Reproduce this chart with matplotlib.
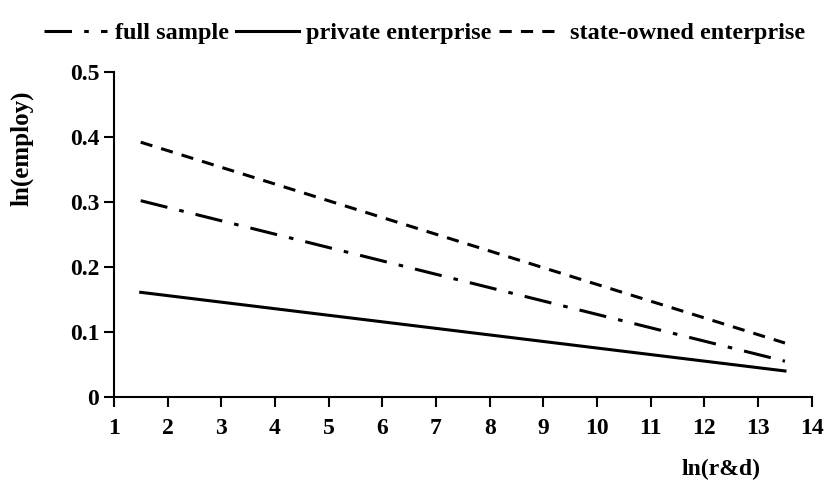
import matplotlib.pyplot as plt

plt.rcParams['font.family'] = ['Liberation Serif', 'DejaVu Serif']
plt.rcParams['font.weight'] = 'bold'

# fitted lines, read at both ends
x_rd = [1.5, 13.5]
full_sample = [0.302, 0.055]
private = [0.161, 0.040]
state_owned = [0.392, 0.083]

xticks = list(range(1, 15))
yticks = [0, 0.1, 0.2, 0.3, 0.4, 0.5]
ytick_labels = ['0', '0.1', '0.2', '0.3', '0.4', '0.5']

fig = plt.figure(figsize=(8.25, 4.8), dpi=100)
ax = fig.add_axes([0.138, 0.173, 0.846, 0.677])

ax.plot(x_rd, full_sample, color='black', lw=2.2, dashes=(9, 4, 1.5, 4), label='full sample')
ax.plot(x_rd, private, color='black', lw=2.2, label='private enterprise')
ax.plot(x_rd, state_owned, color='black', lw=2.2, dashes=(4, 3), label='state-owned enterprise')

ax.set_xlim(1, 14)
ax.set_ylim(0, 0.5)
ax.set_xticks(xticks)
ax.set_yticks(yticks)
ax.set_yticklabels(ytick_labels)
ax.tick_params(labelsize=17, width=1.5, length=7, direction='out')
ax.tick_params(axis='x', pad=8)
for s in ['top', 'right']:
    ax.spines[s].set_visible(False)
for s in ['left', 'bottom']:
    ax.spines[s].set_linewidth(1.5)

ax.set_ylabel('ln(employ)', fontsize=18, fontweight='bold')
ax.yaxis.set_label_coords(-0.115, 0.765)
ax.set_xlabel('ln(r&d)', fontsize=17, fontweight='bold')
ax.xaxis.set_label_coords(0.87, -0.19)

ax.legend(loc='lower center', bbox_to_anchor=(0.445, 1.055), ncol=3, frameon=False,
          fontsize=17.5, handlelength=2.6, handletextpad=0.3, columnspacing=0.3,
          borderaxespad=0)

fig.savefig('out.png', dpi=100)
